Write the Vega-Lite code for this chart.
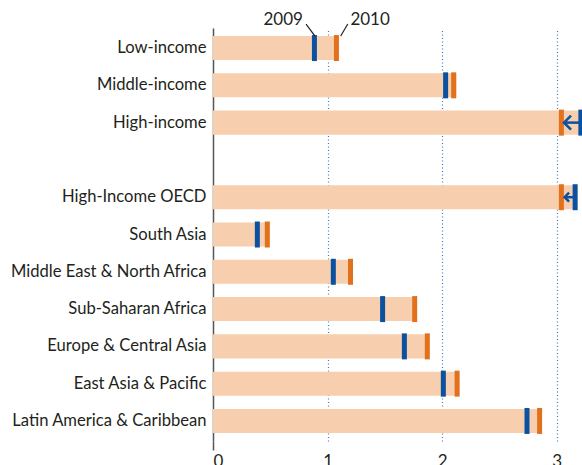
{
  "$schema": "https://vega.github.io/schema/vega-lite/v6.json",
  "width": 369,
  "height": 413,
  "autosize": "none",
  "padding": {"left": 213, "top": 28, "right": 0, "bottom": 24},
  "background": "white",
  "config": {"view": {"stroke": null}, "font": "Lato"},
  "datasets": {
    "rows": [
      {"region": "Low-income", "v2009": 0.885, "v2010": 1.077, "barEnd": 1.10},
      {"region": "Middle-income", "v2009": 2.03, "v2010": 2.10, "barEnd": 2.125},
      {"region": "High-income", "v2009": 3.21, "v2010": 3.04, "barEnd": 3.25},
      {"region": "High-Income OECD", "v2009": 3.16, "v2010": 3.04, "barEnd": 3.18},
      {"region": "South Asia", "v2009": 0.387, "v2010": 0.474, "barEnd": 0.495},
      {"region": "Middle East & North Africa", "v2009": 1.05, "v2010": 1.20, "barEnd": 1.22},
      {"region": "Sub-Saharan Africa", "v2009": 1.48, "v2010": 1.76, "barEnd": 1.78},
      {"region": "Europe & Central Asia", "v2009": 1.67, "v2010": 1.87, "barEnd": 1.89},
      {"region": "East Asia & Pacific", "v2009": 2.01, "v2010": 2.13, "barEnd": 2.15},
      {"region": "Latin America & Caribbean", "v2009": 2.74, "v2010": 2.85, "barEnd": 2.87}
    ],
    "arrows": [
      {"region": "High-income", "tip": 3.063, "tail": 3.21, "head": "big"},
      {"region": "High-Income OECD", "tip": 3.068, "tail": 3.16, "head": "small"}
    ],
    "labels": [
      {"region": "Low-income", "label": "2009", "xt": 0.612, "xTop": 0.812, "xBot": 0.89},
      {"region": "Low-income", "label": "2010", "xt": 1.371, "xTop": 1.176, "xBot": 1.114}
    ]
  },
  "encoding": {
    "y": {
      "field": "region",
      "type": "nominal",
      "scale": {
        "domain": ["Low-income", "Middle-income", "High-income", " ", "High-Income OECD", "South Asia", "Middle East & North Africa", "Sub-Saharan Africa", "Europe & Central Asia", "East Asia & Pacific", "Latin America & Caribbean"],
        "paddingInner": 0.355,
        "paddingOuter": 0.215
      },
      "axis": {
        "title": null,
        "ticks": false,
        "labelFontSize": 16.6,
        "labelColor": "#231f20",
        "labelPadding": 7,
        "labelLimit": 0,
        "domainColor": "#555555",
        "domainWidth": 1.5,
        "labelFont": "Lato"
      }
    }
  },
  "layer": [
    {
      "data": {"name": "rows"},
      "mark": {"type": "bar", "color": "#f7cfae", "clip": true},
      "encoding": {
        "x": {
          "field": "barEnd",
          "type": "quantitative",
          "scale": {"domain": [0, 3.22], "nice": false, "zero": true},
          "axis": {
            "title": null,
            "values": [0, 1, 2, 3],
            "format": "d",
            "domain": false,
            "tickSize": 9,
            "tickWidth": 1.5,
            "tickColor": {"condition": {"test": "datum.value == 0", "value": "#555555"}, "value": "transparent"},
            "labelPadding": 3,
            "labelFontSize": 17,
            "labelColor": "#231f20",
            "labelFont": "Lato",
            "grid": true,
            "gridColor": {"condition": {"test": "datum.value == 0", "value": "transparent"}, "value": "#3a78bd"},
            "gridDash": [1, 2.5],
            "gridWidth": 1.2
          }
        }
      }
    },
    {
      "data": {"name": "rows"},
      "mark": {"type": "tick", "color": "#0b51a0", "thickness": 5, "size": 26, "orient": "vertical", "opacity": 1, "clip": true},
      "encoding": {"x": {"field": "v2009", "type": "quantitative"}}
    },
    {
      "data": {"name": "rows"},
      "mark": {"type": "tick", "color": "#e2711d", "thickness": 5, "size": 26, "orient": "vertical", "opacity": 1, "clip": true},
      "encoding": {"x": {"field": "v2010", "type": "quantitative"}}
    },
    {
      "data": {"name": "arrows"},
      "mark": {"type": "rule", "color": "#0b51a0", "strokeWidth": 2.5},
      "encoding": {
        "x": {"field": "tip", "type": "quantitative"},
        "x2": {"field": "tail"}
      }
    },
    {
      "data": {"name": "arrows"},
      "mark": {"type": "point", "shape": "M1,-1L0,0L1,1", "filled": false, "color": "#0b51a0", "strokeWidth": 2.5, "opacity": 1},
      "encoding": {
        "x": {"field": "tip", "type": "quantitative"},
        "size": {"field": "head", "type": "nominal", "scale": {"domain": ["big", "small"], "range": [196, 81]}, "legend": null}
      }
    },
    {
      "data": {"name": "labels"},
      "mark": {"type": "rule", "color": "#231f20", "strokeWidth": 1.2, "yOffset": -24, "y2Offset": -12},
      "encoding": {
        "x": {"field": "xTop", "type": "quantitative"},
        "x2": {"field": "xBot"},
        "y2": {"field": "region"}
      }
    },
    {
      "data": {"name": "labels"},
      "mark": {"type": "text", "fontSize": 17, "color": "#231f20", "yOffset": -28, "font": "Lato"},
      "encoding": {
        "x": {"field": "xt", "type": "quantitative"},
        "text": {"field": "label"}
      }
    }
  ]
}
